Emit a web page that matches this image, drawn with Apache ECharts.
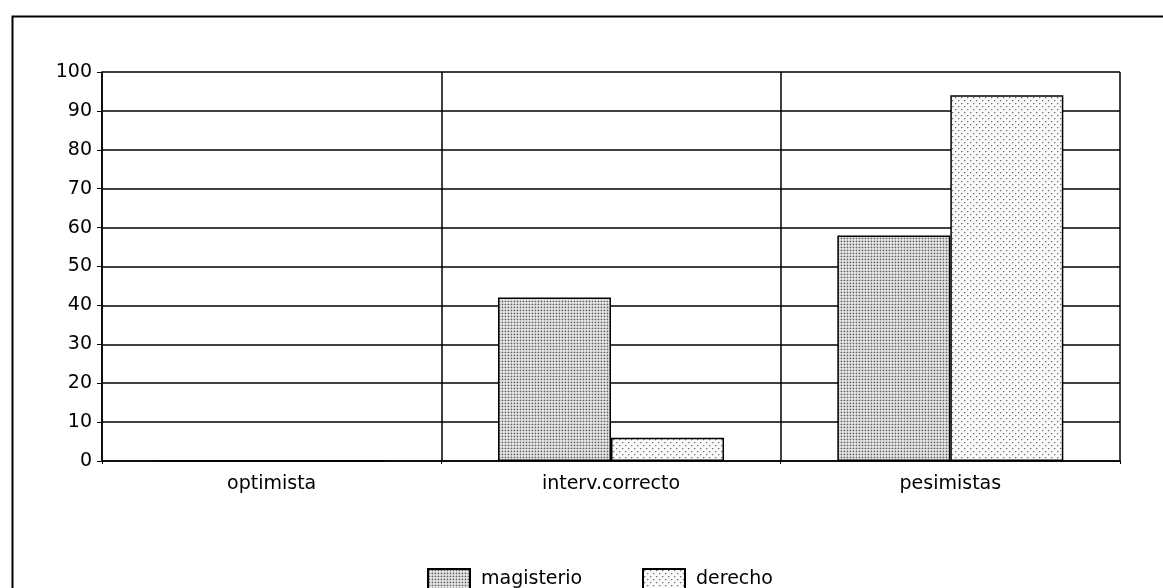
<!DOCTYPE html>
<html><head><meta charset="utf-8">
<script src="https://cdn.jsdelivr.net/npm/echarts@6/dist/echarts.min.js"></script>
<style>html,body{margin:0;padding:0;background:#fff}#c{width:1163px;height:588px}</style>
</head><body><div id="c"></div>
<script>
const categories = ['optimista', 'interv.correcto', 'pesimistas'];
const magisterio = [0, 42, 58];
const derecho = [0, 6, 94];
const yTicks = [0, 10, 20, 30, 40, 50, 60, 70, 80, 90, 100];

function makePattern(size, bg, dots) {
  const c = document.createElement('canvas');
  c.width = size; c.height = size;
  const ctx = c.getContext('2d');
  ctx.fillStyle = bg;
  ctx.fillRect(0, 0, size, size);
  dots.forEach(d => { ctx.fillStyle = d[2]; ctx.fillRect(d[0], d[1], 1, 1); });
  return c;
}
const patMag = makePattern(3, '#e2e2e2', [[1, 1, '#5c5c5c'], [0, 1, '#b4b4b4'], [1, 0, '#b4b4b4'], [2, 1, '#c8c8c8'], [1, 2, '#c8c8c8']]);
const patDer = makePattern(6, '#fafafa', [[1, 1, '#6e6e6e'], [4, 4, '#6e6e6e'], [2, 1, '#c6c6c6'], [5, 4, '#c6c6c6'], [1, 2, '#d6d6d6'], [4, 5, '#d6d6d6']]);

const chart = echarts.init(document.getElementById('c'), null, {renderer: 'canvas'});
const font = '"DejaVu Sans", Arial, sans-serif';
const legendText = {fontFamily: font, fontSize: 19, color: '#000', padding: [0, 0, 0, 6]};
chart.setOption({
  animation: false,
  backgroundColor: '#ffffff',
  graphic: [{
    type: 'rect', left: 10, top: 14, silent: true,
    shape: {width: 1200, height: 700},
    style: {fill: 'none', stroke: '#000', lineWidth: 2}
  }],
  grid: {left: 102, right: 43, top: 72, bottom: 127},
  legend: [{
    left: 427, top: 568, padding: 0,
    itemWidth: 42, itemHeight: 21, icon: 'rect',
    textStyle: legendText, data: ['magisterio']
  }, {
    left: 642, top: 568, padding: 0,
    itemWidth: 42, itemHeight: 21, icon: 'rect',
    textStyle: legendText, data: ['derecho']
  }],
  xAxis: {
    type: 'category', data: categories,
    axisLine: {lineStyle: {color: '#000', width: 1.5}},
    axisTick: {show: true, length: 3, lineStyle: {color: '#000'}},
    axisLabel: {fontFamily: font, fontSize: 19, color: '#000', margin: 14},
    splitLine: {show: true, lineStyle: {color: '#000', width: 1.5}}
  },
  yAxis: {
    type: 'value', min: 0, max: 100, interval: 10,
    axisLine: {show: true, lineStyle: {color: '#000', width: 1.5}},
    axisTick: {show: true, length: 5, lineStyle: {color: '#000'}},
    axisLabel: {fontFamily: font, fontSize: 19, color: '#000', margin: 10,
      formatter: v => yTicks.includes(v) ? String(v) : ''},
    splitLine: {show: true, lineStyle: {color: '#000', width: 1.5}}
  },
  series: [
    {name: 'magisterio', type: 'bar', data: magisterio, barGap: '0%', barCategoryGap: '33.4%',
     itemStyle: {color: {image: patMag, repeat: 'repeat'}, borderColor: '#000', borderWidth: 1.5}},
    {name: 'derecho', type: 'bar', data: derecho,
     itemStyle: {color: {image: patDer, repeat: 'repeat'}, borderColor: '#000', borderWidth: 1.5}}
  ]
});
</script></body></html>
